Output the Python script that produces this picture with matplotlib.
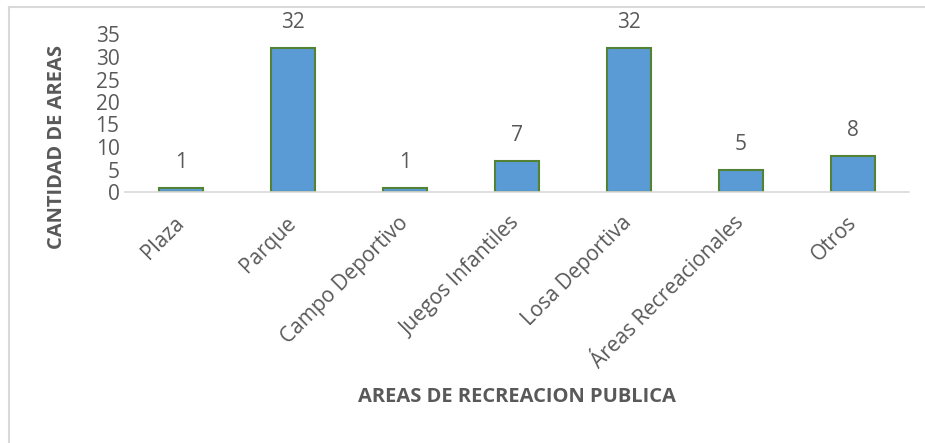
import matplotlib.pyplot as plt
from matplotlib.lines import Line2D

categorias = ["Plaza", "Parque", "Campo Deportivo", "Juegos Infantiles",
              "Losa Deportiva", "Áreas Recreacionales", "Otros"]
cantidades = [1, 32, 1, 7, 32, 5, 8]

plt.rcParams['font.family'] = ['Open Sans', 'DejaVu Sans']
gris = '#595959'

fig = plt.figure(figsize=(9.25, 4.43), dpi=100)
# borde del grafico (solo arriba e izquierda, el resto queda recortado)
top_y = 1 - 7 / 443
left_x = 8.5 / 925
fig.add_artist(Line2D([left_x, left_x], [0, top_y], transform=fig.transFigure,
                      color='#D9D9D9', linewidth=1.5))
fig.add_artist(Line2D([left_x, 1], [top_y, top_y], transform=fig.transFigure,
                      color='#D9D9D9', linewidth=1.5))

ax = fig.add_axes([125 / 925, 251 / 443, 784 / 925, 157.5 / 443])

x = range(len(categorias))
ax.bar(x, cantidades, width=0.4, color='#5B9BD5',
       edgecolor='#548235', linewidth=1.5)
for xi, v in zip(x, cantidades):
    ax.annotate(str(v), (xi, v), xytext=(0, 18), textcoords='offset points',
                ha='center', va='center', fontsize=15, color=gris)

ax.set_xlim(-0.5, len(categorias) - 0.5)
ax.set_ylim(0, 35)
ax.set_yticks(range(0, 36, 5))
ax.set_xticks(list(x))
ax.set_xticklabels(categorias, rotation=45, ha='right', va='center',
                   rotation_mode='anchor', fontsize=15, color=gris)
ax.tick_params(axis='both', length=0, labelsize=15, colors=gris)
ax.tick_params(axis='x', pad=20)
ax.tick_params(axis='y', pad=4)

for s in ['top', 'right', 'left']:
    ax.spines[s].set_visible(False)
ax.spines['bottom'].set_color('#D9D9D9')
ax.spines['bottom'].set_linewidth(1.2)

fig.text(57 / 925, 1 - 147 / 443, "CANTIDAD DE AREAS", rotation=90, ha='center', va='center',
         fontsize=14.5, fontweight='bold', color=gris)
fig.text(517 / 925, 1 - 397 / 443, "AREAS DE RECREACION PUBLICA", ha='center', va='center',
         fontsize=14.5, fontweight='bold', color=gris)

fig.savefig("out.png", dpi=100)
